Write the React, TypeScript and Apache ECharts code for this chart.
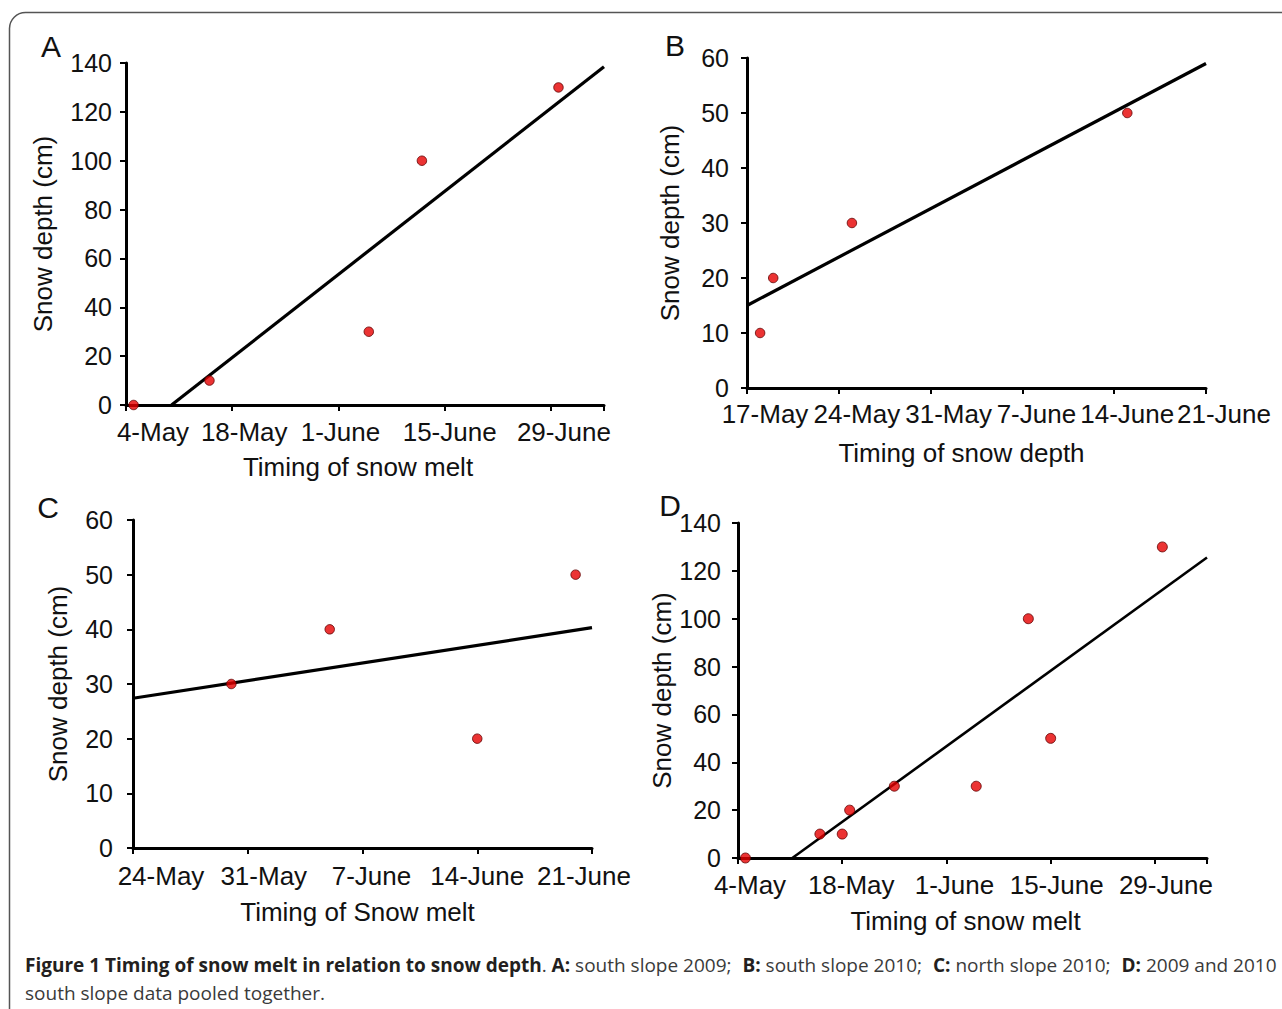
import React, { useEffect, useRef } from "react";
import * as echarts from "echarts";

// ---------- DATA ----------
// Panel A: south slope 2009
const aDates = ["5-May", "15-May", "5-June", "12-June", "30-June"];
const aDepth = [0, 10, 30, 100, 130];
const aTicks = ["4-May", "18-May", "1-June", "15-June", "29-June"];
const aTrendDays = [6, 63]; // days after axis start
const aTrendDepth = [0, 138.5];

// Panel B: south slope 2010
const bDates = ["18-May", "19-May", "25-May", "15-June"];
const bDepth = [10, 20, 30, 50];
const bTicks = ["17-May", "24-May", "31-May", "7-June", "14-June", "21-June"];
const bTrendDays = [0, 35];
const bTrendDepth = [15, 59];

// Panel C: north slope 2010
const cDates = ["30-May", "5-June", "14-June", "20-June"];
const cDepth = [30, 40, 20, 50];
const cTicks = ["24-May", "31-May", "7-June", "14-June", "21-June"];
const cTrendDays = [0, 28];
const cTrendDepth = [27.4, 40.3];

// Panel D: 2009 and 2010 south slope pooled
const dDates = ["5-May", "15-May", "18-May", "19-May", "25-May", "5-June", "12-June", "15-June", "30-June"];
const dDepth = [0, 10, 10, 20, 30, 30, 100, 50, 130];
const dTicks = ["4-May", "18-May", "1-June", "15-June", "29-June"];
const dTrendDays = [7.3, 63];
const dTrendDepth = [0, 125.6];

const yTitle = "Snow depth (cm)";
const xTitles = ["Timing of snow melt", "Timing of snow depth", "Timing of Snow melt", "Timing of snow melt"];
const panelLetters = ["A", "B", "C", "D"];

const captionBold = "Figure 1 Timing of snow melt in relation to snow depth";
const captionParts: [string, string][] = [
  ["A:", " south slope 2009; "],
  ["B:", " south slope 2010; "],
  ["C:", " north slope 2010; "],
  ["D:", " 2009 and 2010"],
];
const captionLine2 = "south slope data pooled together.";

// ---------- HELPERS ----------
const monthStart: Record<string, number> = { May: 120, June: 151, July: 181 };
function doy(s: string): number {
  const [d, m] = s.split("-");
  return monthStart[m] + Number(d);
}

const FONT = "'Liberation Sans', Arial, Helvetica, sans-serif";

type Panel = {
  dates: string[];
  depth: number[];
  ticks: string[];
  trendDays: number[];
  trendDepth: number[];
  step: number;
  span: number;
  yMax: number;
  yStep: number;
  grid: { left: number; top: number; width: number; height: number };
  shifts: number[];
  yMargin: number;
  xMargin: number;
  xNameGap: number;
  xNameShift: number;
  yNameGap: number;
  lineWidth: number;
  symbolSize: number;
};

const panels: Panel[] = [
  {
    dates: aDates, depth: aDepth, ticks: aTicks, trendDays: aTrendDays, trendDepth: aTrendDepth,
    step: 14, span: 63, yMax: 140, yStep: 20,
    grid: { left: 126, top: 63, width: 478, height: 342 },
    shifts: [27, 12, 2, 5, 13], yMargin: 14, xMargin: 14, xNameGap: 49, xNameShift: -7, yNameGap: 70, lineWidth: 3.2, symbolSize: 9.5,
  },
  {
    dates: bDates, depth: bDepth, ticks: bTicks, trendDays: bTrendDays, trendDepth: bTrendDepth,
    step: 7, span: 35, yMax: 60, yStep: 10,
    grid: { left: 747, top: 58, width: 459, height: 330 },
    shifts: [18, 18, 18, 14, 13, 18], yMargin: 18, xMargin: 13, xNameGap: 52, xNameShift: -15, yNameGap: 64, lineWidth: 3.2, symbolSize: 9.5,
  },
  {
    dates: cDates, depth: cDepth, ticks: cTicks, trendDays: cTrendDays, trendDepth: cTrendDepth,
    step: 7, span: 28, yMax: 60, yStep: 10,
    grid: { left: 133, top: 520, width: 459, height: 328 },
    shifts: [28, 16, 9, 0, -8], yMargin: 20, xMargin: 15, xNameGap: 51, xNameShift: -5, yNameGap: 62, lineWidth: 3.2, symbolSize: 9.5,
  },
  {
    dates: dDates, depth: dDepth, ticks: dTicks, trendDays: dTrendDays, trendDepth: dTrendDepth,
    step: 14, span: 63, yMax: 140, yStep: 20,
    grid: { left: 738, top: 523, width: 469, height: 335 },
    shifts: [12, 9, 8, 6, 11], yMargin: 17, xMargin: 14, xNameGap: 50, xNameShift: -7, yNameGap: 63, lineWidth: 2.6, symbolSize: 10,
  },
];

function pad(s: number) {
  return [0, s < 0 ? -2 * s : 0, 0, s > 0 ? 2 * s : 0];
}

function buildOption() {
  const grids: any[] = [];
  const xAxes: any[] = [];
  const yAxes: any[] = [];
  const series: any[] = [];

  panels.forEach((p, i) => {
    grids.push({ ...p.grid, containLabel: false });
    const start = doy(p.ticks[0]);
    const tokenStyle = { fontSize: 26, fontFamily: FONT, color: "#111" };
    const rich: Record<string, any> = {};
    p.shifts.forEach((s, k) => {
      rich["s" + k] = { ...tokenStyle, padding: pad(s) };
    });
    xAxes.push({
      type: "value",
      gridIndex: i,
      min: 0,
      max: p.span,
      interval: p.step,
      axisLine: { show: true, onZero: false, lineStyle: { color: "#000", width: 3 } },
      axisTick: { show: true, length: 6, lineStyle: { color: "#000", width: 2 } },
      splitLine: { show: false },
      axisLabel: {
        margin: p.xMargin,
        showMinLabel: true,
        showMaxLabel: true,
        fontSize: 26,
        fontFamily: FONT,
        color: "#111",
        formatter: (v: number) => {
          const k = Math.round(v / p.step);
          if (Math.abs(v - k * p.step) > 1e-6) return "";
          const t = p.ticks[k];
          if (!t) return "";
          return `{s${k}|${t}}`;
        },
        rich,
      },
      name: xTitles[i],
      nameLocation: "middle",
      nameGap: p.xNameGap,
      nameTextStyle: {
        fontSize: 26,
        fontFamily: FONT,
        color: "#111",
        padding: [0, p.xNameShift < 0 ? -2 * p.xNameShift : 0, 0, p.xNameShift > 0 ? 2 * p.xNameShift : 0],
      },
    });
    yAxes.push({
      type: "value",
      gridIndex: i,
      min: 0,
      max: p.yMax,
      interval: p.yStep,
      axisLine: { show: true, lineStyle: { color: "#000", width: 3 } },
      axisTick: { show: true, length: 6, lineStyle: { color: "#000", width: 2 } },
      splitLine: { show: false },
      axisLabel: { margin: p.yMargin, fontSize: 25, fontFamily: FONT, color: "#111" },
      name: yTitle,
      nameLocation: "middle",
      nameGap: p.yNameGap,
      nameRotate: 90,
      nameTextStyle: { fontSize: 26, fontFamily: FONT, color: "#111" },
    });
    series.push({
      type: "line",
      xAxisIndex: i,
      yAxisIndex: i,
      data: p.trendDays.map((d, j) => [d, p.trendDepth[j]]),
      showSymbol: false,
      symbol: "none",
      lineStyle: { color: "#000", width: p.lineWidth },
      z: 2,
      silent: true,
    });
    series.push({
      type: "scatter",
      xAxisIndex: i,
      yAxisIndex: i,
      data: p.dates.map((d, j) => [doy(d) - start, p.depth[j]]),
      symbol: "circle",
      symbolSize: p.symbolSize,
      itemStyle: { color: "#e60000", borderColor: "#600000", borderWidth: 1 },
      z: 3,
      clip: false,
    });
  });

  const letterPos = [
    [51, 46],
    [675, 45],
    [48, 507],
    [670, 505],
  ];

  const graphics: any[] = [
    {
      type: "rect",
      shape: { x: 9.5, y: 12.5, width: 1400, height: 1100, r: [16, 0, 0, 0] },
      style: { fill: "none", stroke: "#555", lineWidth: 1.5 },
      silent: true,
    },
    ...panelLetters.map((l, i) => ({
      type: "text",
      x: letterPos[i][0],
      y: letterPos[i][1],
      style: {
        text: l,
        fontSize: 30,
        fontFamily: FONT,
        fill: "#111",
        align: "center",
        verticalAlign: "middle",
      },
    })),
  ];

  let capText = `{b|${captionBold}}{r|. }`;
  captionParts.forEach(([b, r], k) => {
    capText += `{${k === 0 ? "b" : "bj"}|${b}}{r|${r}}`;
  });
  capText += `\n{r|${captionLine2}}`;
  const capFont = "'Open Sans', 'Noto Sans', sans-serif";
  const bold = { fontFamily: capFont, fontSize: 19, fontWeight: "bold", fill: "#231f20", lineHeight: 28 };
  graphics.push({
    type: "text",
    x: 25,
    y: 951,
    style: {
      text: capText,
      rich: {
        b: bold,
        bj: { ...bold, padding: [0, 0, 0, 6] },
        r: { fontFamily: capFont, fontSize: 19, fill: "#3a3a3a", lineHeight: 28 },
      },
    },
  });

  return {
    animation: false,
    backgroundColor: "#fff",
    grid: grids,
    xAxis: xAxes,
    yAxis: yAxes,
    series,
    graphic: graphics,
  };
}

export default function App() {
  const ref = useRef<HTMLDivElement>(null);
  useEffect(() => {
    document.body.style.margin = "0";
    if (!ref.current) return;
    const chart = echarts.init(ref.current, null, { renderer: "svg" });
    chart.setOption(buildOption());
    return () => chart.dispose();
  }, []);
  return <div ref={ref} style={{ width: 1282, height: 1009 }} />;
}
